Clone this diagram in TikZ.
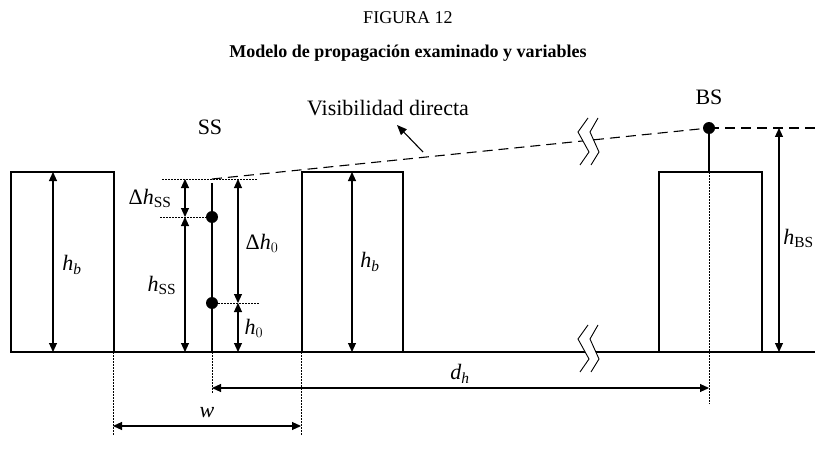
\documentclass[tikz,border=0pt]{standalone}
\usepackage{fontspec}
\setmainfont{Liberation Serif}
\usepackage{amsmath}
\usetikzlibrary{arrows.meta}
\tikzset{
  brk/.pic={
    \fill[white] (10,-23.5) -- (0,-9.5) -- (11,10.5) -- (2,23.5) -- (13,23.5) -- (21,10.5) -- (12,-9.5) -- (20,-23.5) -- cycle;
    \draw[line width=0.9pt] (10,-23.5) -- (0,-9.5) -- (11,10.5) -- (2,23.5);
    \draw[line width=0.9pt] (20,-23.5) -- (12,-9.5) -- (21,10.5) -- (13,23.5);
  }
}
\begin{document}
\begin{tikzpicture}[x=1pt,y=-1pt,
  every node/.style={inner sep=0pt},
  lab/.style={font=\fontsize{22}{26}\selectfont},
  ln/.style={line width=1.1pt},
  dimline/.style={line width=1.1pt, {Triangle[length=9pt,width=8pt]}-{Triangle[length=9pt,width=8pt]}},
  ptr/.style={line width=1.1pt, -{Triangle[length=10pt,width=8pt]}},
  dots/.style={line width=0.9pt, dash pattern=on 1.5pt off 1.5pt},
  los/.style={line width=1.1pt, dash pattern=on 10pt off 6pt},
  ant/.style={circle, fill=black, minimum size=12pt},
]
\useasboundingbox (0,0) rectangle (815,452);

% titles
\node[anchor=base, font=\fontsize{18}{22}\selectfont] (fig) at (408,24) {FIGURA 12};
\node[anchor=base, font=\fontsize{18}{22}\selectfont\bfseries] (tit) at (408,58) {Modelo de propagación examinado y variables};

% coordinates
\coordinate (g0) at (10,352); \coordinate (g1) at (815,352);
\coordinate (b1a) at (11,172); \coordinate (b1b) at (114,352);
\coordinate (b2a) at (302,172); \coordinate (b2b) at (403,352);
\coordinate (b3a) at (659,172); \coordinate (b3b) at (762,352);

% ground and buildings
\draw[ln] (g0) -- (g1);
\draw[ln] (b1a) rectangle (b1b);
\draw[ln] (b2a) rectangle (b2b);
\draw[ln] (b3a) rectangle (b3b);

% SS mast
\coordinate (sstop) at (212,179);
\coordinate (pole0) at (212,183);
\coordinate (poleg) at (212,352);
\coordinate (poled) at (212,393);
\node[ant] (m1) at (212,217) {};
\node[ant] (m0) at (212,303) {};
\draw[ln] (pole0) -- (poleg);
\draw[dots] (poleg) -- (poled);
\coordinate (t0) at (162,179); \coordinate (t1) at (258,179);
\draw[dots] (t0) -- (t1);
\coordinate (u0) at (160,217);
\draw[dots] (u0) -- (m1.center);
\coordinate (l1) at (260,303);
\draw[dots] (m0.center) -- (l1);

% BS
\node[ant] (bs) at (709,128) {};
\coordinate (b3top) at (709,172);
\coordinate (b3d) at (709,404);
\draw[ln] (bs.center) -- (b3top);
\draw[dots] (b3top) -- (b3d);
\coordinate (bsr) at (815,128);

% line of sight
\draw[los] (sstop) -- (bs.center);
\draw[los] (bs.center) -- (bsr);

% break marks
\pic at (578,348.5) {brk};
\pic at (578,141.5) {brk};

% dimension arrows
\coordinate (hb1t) at (53,172); \coordinate (hb1b) at (53,352);
\draw[dimline] (hb1t) -- (hb1b);
\coordinate (hb2t) at (352,172); \coordinate (hb2b) at (352,352);
\draw[dimline] (hb2t) -- (hb2b);
\coordinate (hbst) at (779,128); \coordinate (hbsb) at (779,352);
\draw[dimline] (hbst) -- (hbsb);
\coordinate (dss0) at (185,179); \coordinate (dss1) at (185,217); \coordinate (dss2) at (185,352);
\draw[dimline] (dss0) -- (dss1);
\draw[dimline] (dss1) -- (dss2);
\coordinate (dh0a) at (238,179); \coordinate (dh0b) at (238,303); \coordinate (dh0c) at (238,352);
\draw[dimline] (dh0a) -- (dh0b);
\draw[dimline] (dh0b) -- (dh0c);

% horizontal dimensions
\coordinate (wl0) at (113,352); \coordinate (wl1) at (113,435);
\coordinate (wr0) at (301,352); \coordinate (wr1) at (301,435);
\draw[dots] (wl0) -- (wl1);
\draw[dots] (wr0) -- (wr1);
\coordinate (wa) at (113,426); \coordinate (wb) at (301,426);
\draw[dimline] (wa) -- (wb);
\coordinate (da) at (212,388); \coordinate (db) at (709,388);
\draw[dimline] (da) -- (db);

% visibility pointer
\coordinate (vt) at (423,152); \coordinate (vh) at (397,125);
\draw[ptr] (vt) -- (vh);

% labels
\node[lab] (lss) at (210,127) {SS};
\node[lab] (lbs) at (709,97) {BS};
\node[lab] (lvis) at (388,108) {Visibilidad directa};
\node[lab] (lhb1) at (72,265) {$\textit{h}_{\textit{b}}$};
\node[lab] (lhb2) at (370,262) {$\textit{h}_{\textit{b}}$};
\node[lab, anchor=east] (lhbs) at (814,238) {$\textit{h}_{\text{BS}}$};
\node[lab] (ldss) at (150,198) {$\text{Δ}\textit{h}_{\text{SS}}$};
\node[lab] (lhss) at (162,285) {$\textit{h}_{\text{SS}}$};
\node[lab] (ldh0) at (262,243) {$\text{Δ}\textit{h}_{0}$};
\node[lab] (lh0) at (254,328) {$\textit{h}_{0}$};
\node[lab] (ldh) at (460,374) {$\textit{d}_{\textit{h}}$};
\node[lab] (lw) at (207,413) {\textit{w}};
\end{tikzpicture}
\end{document}
